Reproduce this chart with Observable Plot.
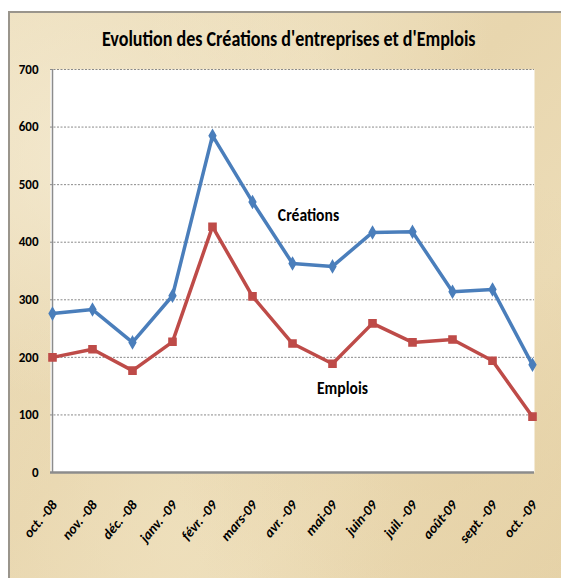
<!DOCTYPE html>
<html>
<head>
<meta charset="utf-8">
<script src="https://cdn.jsdelivr.net/npm/d3@7"></script>
<script src="https://cdn.jsdelivr.net/npm/@observablehq/plot@0.6"></script>
<style>
  html, body { margin: 0; padding: 0; background: #ffffff; }
  #wrap {
    position: relative; width: 561px; height: 578px; overflow: hidden;
    background: #ffffff;
  }
  #panel {
    position: absolute; left: 8px; top: 11px; width: 560px; height: 580px;
    border-left: 2px solid #9a958c; border-top: 2px solid #9a958c;
    background:
      radial-gradient(ellipse at 15% 25%, rgba(248,240,220,0.6), rgba(248,240,220,0) 40%),
      radial-gradient(ellipse at 80% 75%, rgba(228,206,160,0.5), rgba(228,206,160,0) 45%),
      radial-gradient(ellipse at 55% 10%, rgba(242,230,200,0.5), rgba(242,230,200,0) 40%),
      radial-gradient(ellipse at 30% 90%, rgba(240,226,192,0.6), rgba(240,226,192,0) 40%),
      linear-gradient(135deg, #eddfbd 0%, #e8d6ae 45%, #ecdcb7 70%, #e6d3a9 100%);
  }
  #title {
    position: absolute; left: 0; width: 578px; top: 25px; text-align: center;
    color: #000;
  }
  #title span {
    display: inline-block; transform: scaleX(0.82); transform-origin: center;
    font-family: Carlito, "Open Sans", sans-serif; font-weight: bold; font-size: 22px;
    white-space: nowrap;
  }
  #chart { position: absolute; left: 0; top: 0; }
</style>
</head>
<body>
<div id="wrap">
  <div id="panel"></div>
  <div id="title"><span>Evolution des Créations d'entreprises et d'Emplois</span></div>
  <div id="chart"></div>
</div>
<script>
const months = ["oct. -08","nov. -08","déc. -08","janv. -09","févr. -09","mars-09","avr. -09","mai-09","juin-09","juil. -09","août-09","sept. -09","oct. -09"];
const creations = [276, 283, 226, 307, 585, 470, 363, 358, 417, 418, 314, 318, 187];
const emplois   = [200, 214, 177, 227, 427, 306, 224, 189, 259, 226, 231, 194, 97];
const yTicks = [0, 100, 200, 300, 400, 500, 600, 700];
const seriesLabels = [
  {label: "Créations", month: "mai-09", value: 446, shift: -24},
  {label: "Emplois",   month: "mai-09", value: 146, shift: 10}
];

const cData = months.map((m, i) => ({month: m, value: creations[i]}));
const eData = months.map((m, i) => ({month: m, value: emplois[i]}));

const font = "Carlito, 'Open Sans', sans-serif";

const chart = Plot.plot({
  width: 561,
  height: 578,
  marginLeft: 50,
  marginRight: 27,
  marginTop: 69,
  marginBottom: 106,
  style: {background: "transparent", fontFamily: font, fontWeight: "bold", color: "#000", overflow: "visible"},
  x: {type: "point", domain: months, padding: 0, label: null},
  y: {domain: [0, 700], label: null},
  marks: [
    Plot.frame({fill: "white", stroke: null}),
    Plot.ruleY(yTicks.filter(d => d > 0), {stroke: "#8a8a8a", strokeWidth: 1, strokeDasharray: "2,1.5"}),
    Plot.ruleX([months[0]], {stroke: "#8c8c8c", strokeWidth: 1.5}),
    Plot.ruleY([0], {stroke: "#8c8c8c", strokeWidth: 2.5}),
    Plot.axisY({ticks: yTicks, tickSize: 0, tickPadding: 12, fontSize: 13, fontWeight: "bold", label: null}),
    Plot.axisX({tickSize: 0, tickRotate: -50, tickPadding: 4, dx: 2, dy: 26, fontSize: 14, fontWeight: "bold", fontStyle: "italic", label: null}),
    Plot.line(cData, {x: "month", y: "value", stroke: "#4a7ebb", strokeWidth: 3.5}),
    Plot.dot(cData, {x: "month", y: "value", symbol: "diamond", r: 3.5, fill: "#4a7ebb", stroke: "#4a7ebb"}),
    Plot.line(eData, {x: "month", y: "value", stroke: "#be4b48", strokeWidth: 3.5}),
    Plot.dot(eData, {x: "month", y: "value", symbol: "square", r: 4, fill: "#be4b48", stroke: "#be4b48"}),
    Plot.text(seriesLabels, {x: "month", y: "value", text: "label", fontSize: 17, fontWeight: "bold", fill: "#000", fontFamily: font})
  ]
});
document.getElementById("chart").appendChild(chart);

// shift and condense the series labels
d3.select(chart).selectAll("text").filter(function() { return seriesLabels.some(s => s.label === this.textContent); })
  .each(function() {
    const s = seriesLabels.find(s => s.label === this.textContent);
    const t = this.getAttribute("transform") || "";
    this.setAttribute("transform", t + ` translate(${s.shift},0) scale(0.92,1)`);
  });
</script>
</body>
</html>
